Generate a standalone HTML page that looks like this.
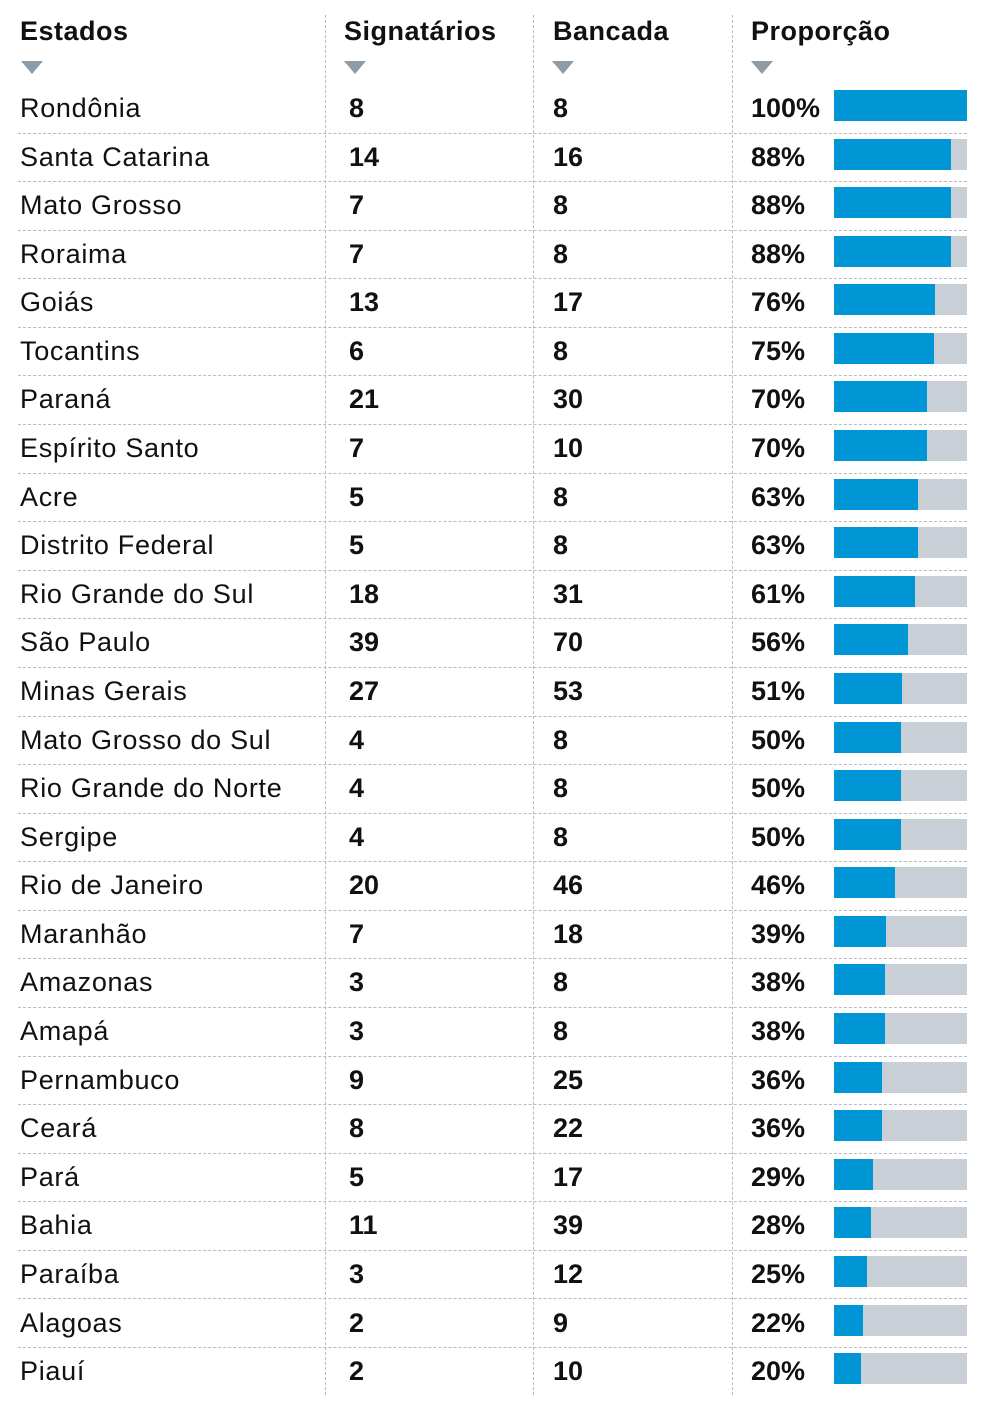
<!DOCTYPE html>
<html><head><meta charset="utf-8"><style>
body{margin:0;width:984px;height:1410px;background:#fff;position:relative;font-family:"Liberation Sans",sans-serif;color:#111;overflow:hidden}
.h{position:absolute;top:16px;font-size:27px;font-weight:bold;letter-spacing:0.5px}
.t{position:absolute;top:61px;width:0;height:0;border-left:11px solid transparent;border-right:11px solid transparent;border-top:13px solid #8f9ba5}
.v{position:absolute;top:15px;height:1380px;border-left:1px dashed #bbb}
.r{position:absolute;left:18px;width:949px;height:48.58px}
.r:not(:last-child){border-bottom:1px dashed #bbb}
.r span{position:absolute;top:8px;font-size:27px;line-height:32px}
.n{left:2px;letter-spacing:0.7px}
.s{left:331px;font-weight:bold}
.b{left:535px;font-weight:bold}
.p{left:733px;font-weight:bold}
.bar{position:absolute;left:816px;top:6px;width:133px;height:31px;background:#c8cfd6}
.bar i{display:block;height:100%;background:#0096d6}
</style></head><body>
<div class="h" style="left:20px">Estados</div>
<div class="h" style="left:344px">Signatários</div>
<div class="h" style="left:553px">Bancada</div>
<div class="h" style="left:751px">Proporção</div>
<div class="t" style="left:21px"></div><div class="t" style="left:344px"></div><div class="t" style="left:552px"></div><div class="t" style="left:751px"></div>
<div class="v" style="left:325px"></div><div class="v" style="left:533px"></div><div class="v" style="left:732px"></div>
<div style="position:absolute;top:84px;left:0">
<div class="r" style="top:0"><span class="n">Rondônia</span><span class="s">8</span><span class="b">8</span><span class="p">100%</span><div class="bar"><i style="width:100%"></i></div></div>
<div class="r" style="top:48.58px"><span class="n">Santa Catarina</span><span class="s">14</span><span class="b">16</span><span class="p">88%</span><div class="bar"><i style="width:88%"></i></div></div>
<div class="r" style="top:97.16px"><span class="n">Mato Grosso</span><span class="s">7</span><span class="b">8</span><span class="p">88%</span><div class="bar"><i style="width:88%"></i></div></div>
<div class="r" style="top:145.74px"><span class="n">Roraima</span><span class="s">7</span><span class="b">8</span><span class="p">88%</span><div class="bar"><i style="width:88%"></i></div></div>
<div class="r" style="top:194.32px"><span class="n">Goiás</span><span class="s">13</span><span class="b">17</span><span class="p">76%</span><div class="bar"><i style="width:76%"></i></div></div>
<div class="r" style="top:242.9px"><span class="n">Tocantins</span><span class="s">6</span><span class="b">8</span><span class="p">75%</span><div class="bar"><i style="width:75%"></i></div></div>
<div class="r" style="top:291.48px"><span class="n">Paraná</span><span class="s">21</span><span class="b">30</span><span class="p">70%</span><div class="bar"><i style="width:70%"></i></div></div>
<div class="r" style="top:340.06px"><span class="n">Espírito Santo</span><span class="s">7</span><span class="b">10</span><span class="p">70%</span><div class="bar"><i style="width:70%"></i></div></div>
<div class="r" style="top:388.64px"><span class="n">Acre</span><span class="s">5</span><span class="b">8</span><span class="p">63%</span><div class="bar"><i style="width:63%"></i></div></div>
<div class="r" style="top:437.22px"><span class="n">Distrito Federal</span><span class="s">5</span><span class="b">8</span><span class="p">63%</span><div class="bar"><i style="width:63%"></i></div></div>
<div class="r" style="top:485.8px"><span class="n">Rio Grande do Sul</span><span class="s">18</span><span class="b">31</span><span class="p">61%</span><div class="bar"><i style="width:61%"></i></div></div>
<div class="r" style="top:534.38px"><span class="n">São Paulo</span><span class="s">39</span><span class="b">70</span><span class="p">56%</span><div class="bar"><i style="width:56%"></i></div></div>
<div class="r" style="top:582.96px"><span class="n">Minas Gerais</span><span class="s">27</span><span class="b">53</span><span class="p">51%</span><div class="bar"><i style="width:51%"></i></div></div>
<div class="r" style="top:631.54px"><span class="n">Mato Grosso do Sul</span><span class="s">4</span><span class="b">8</span><span class="p">50%</span><div class="bar"><i style="width:50%"></i></div></div>
<div class="r" style="top:680.12px"><span class="n">Rio Grande do Norte</span><span class="s">4</span><span class="b">8</span><span class="p">50%</span><div class="bar"><i style="width:50%"></i></div></div>
<div class="r" style="top:728.7px"><span class="n">Sergipe</span><span class="s">4</span><span class="b">8</span><span class="p">50%</span><div class="bar"><i style="width:50%"></i></div></div>
<div class="r" style="top:777.28px"><span class="n">Rio de Janeiro</span><span class="s">20</span><span class="b">46</span><span class="p">46%</span><div class="bar"><i style="width:46%"></i></div></div>
<div class="r" style="top:825.86px"><span class="n">Maranhão</span><span class="s">7</span><span class="b">18</span><span class="p">39%</span><div class="bar"><i style="width:39%"></i></div></div>
<div class="r" style="top:874.44px"><span class="n">Amazonas</span><span class="s">3</span><span class="b">8</span><span class="p">38%</span><div class="bar"><i style="width:38%"></i></div></div>
<div class="r" style="top:923.02px"><span class="n">Amapá</span><span class="s">3</span><span class="b">8</span><span class="p">38%</span><div class="bar"><i style="width:38%"></i></div></div>
<div class="r" style="top:971.6px"><span class="n">Pernambuco</span><span class="s">9</span><span class="b">25</span><span class="p">36%</span><div class="bar"><i style="width:36%"></i></div></div>
<div class="r" style="top:1020.18px"><span class="n">Ceará</span><span class="s">8</span><span class="b">22</span><span class="p">36%</span><div class="bar"><i style="width:36%"></i></div></div>
<div class="r" style="top:1068.76px"><span class="n">Pará</span><span class="s">5</span><span class="b">17</span><span class="p">29%</span><div class="bar"><i style="width:29%"></i></div></div>
<div class="r" style="top:1117.34px"><span class="n">Bahia</span><span class="s">11</span><span class="b">39</span><span class="p">28%</span><div class="bar"><i style="width:28%"></i></div></div>
<div class="r" style="top:1165.92px"><span class="n">Paraíba</span><span class="s">3</span><span class="b">12</span><span class="p">25%</span><div class="bar"><i style="width:25%"></i></div></div>
<div class="r" style="top:1214.5px"><span class="n">Alagoas</span><span class="s">2</span><span class="b">9</span><span class="p">22%</span><div class="bar"><i style="width:22%"></i></div></div>
<div class="r" style="top:1263.08px"><span class="n">Piauí</span><span class="s">2</span><span class="b">10</span><span class="p">20%</span><div class="bar"><i style="width:20%"></i></div></div>
</div>
</body></html>
